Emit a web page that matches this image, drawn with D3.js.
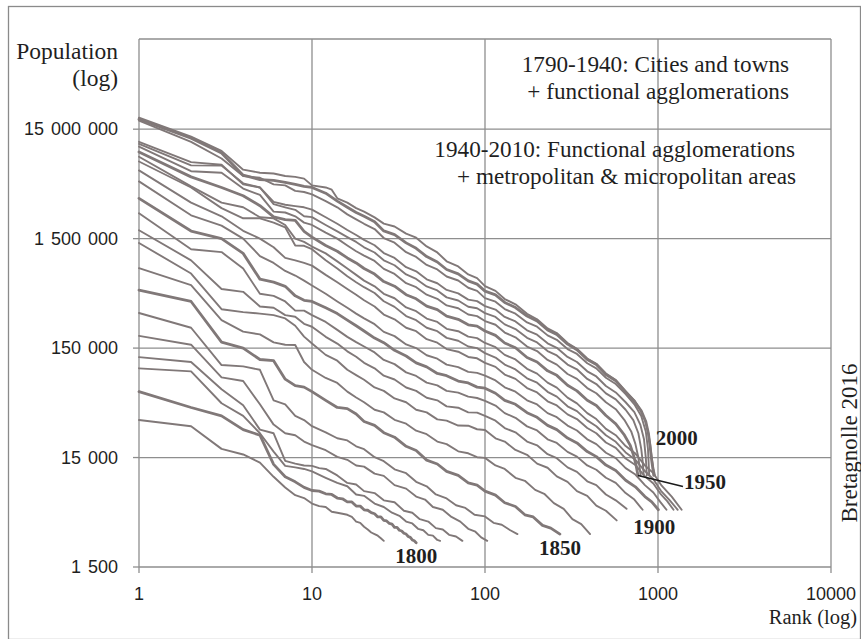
<!DOCTYPE html>
<html>
<head>
<meta charset="utf-8">
<style>
  body { margin: 0; background: #fff; }
  svg text { fill: #1f1f1f; }
  .tick-label { font-family: "Liberation Sans", Arial, sans-serif; font-size: 18px; }
  .serif { font-family: "Liberation Serif", "Times New Roman", serif; }
  .grid line { stroke: #8e8e8e; stroke-width: 1.3px; }
  .curve { fill: none; stroke: #807878; stroke-linejoin: round; stroke-linecap: round; }
  .year-label { font-family: "Liberation Serif", "Times New Roman", serif; font-weight: bold; font-size: 21px; }
</style>
<title>Rank-size curves, United States 1790-2010</title>
</head>
<body>
<svg width="861" height="639"></svg>
<script src="https://d3js.org/d3.v7.min.js"></script>
<script>
var years = [1790, 1800, 1810, 1820, 1830, 1840, 1850, 1860, 1870, 1880, 1890, 1900,
             1910, 1920, 1930, 1940, 1950, 1960, 1970, 1980, 1990, 2000, 2010];
var labelledYears = [1800, 1850, 1900, 1950, 2000];

var yTicks = [1500, 15000, 150000, 1500000, 15000000];
var yTickLabels = ["1 500", "15 000", "150 000", "1 500 000", "15 000 000"];
var xTicks = [1, 10, 100, 1000, 10000];
var xTickLabels = ["1", "10", "100", "1000", "10000"];

// [rank, population in thousands]
var c1790 = [[1,33],[2,29],[3,18],[4,16],[5,13.5],[6,10],[7,8],[8,6.8],[9,6.4],[10,5.7],[11,5.4],[12,5.3],[13,4.8],[14,4.7],[15,4.6],[16,4.5],[17,4.3],[18,3.9],[19,3.8],[20,3.5],[21,3.3],[22,3.1],[23,3.0],[24,2.9],[25,2.75],[26,2.6]];
var c1800 = [[1,60],[2,43],[3,36],[4,27],[5,24],[6,13],[7,10],[8,9],[9,8],[10,7.5],[11,7.4],[12,7.0],[13,6.9],[14,6.4],[15,6.3],[16,5.9],[17,5.9],[18,5.4],[19,5.4],[20,5.0],[21,4.95],[22,4.7],[23,4.6],[24,4.3],[25,4.3],[26,4.0],[27,3.95],[28,3.75],[29,3.7],[30,3.45],[31,3.45],[32,3.25],[33,3.2],[34,3.05],[35,3.0],[36,2.85],[37,2.8],[38,2.65],[39,2.6],[40,2.5]];
var c1810 = [[1,98],[2,92],[3,47],[4,36],[5,25],[6,17],[7,12.6],[8,12.2],[9,11.8],[10,11.2],[12,9.8],[14,8.8],[16,8.2],[18,6.9],[20,6.7],[23,5.7],[26,5.3],[29,4.7],[32,4.4],[35,3.9],[38,3.75],[41,3.35],[44,3.25],[47,2.95],[50,2.9],[53,2.65],[55,2.6]];
var c1820 = [[1,124],[2,112],[3,63],[4,45],[5,27],[6,25],[7,14],[8,13.2],[9,12.7],[10,12.6],[11,12.0],[12,11.8],[14,10.3],[16,8.8],[18,8.5],[20,7.4],[23,7.1],[26,6.1],[30,5.85],[34,4.9],[38,4.7],[42,4.1],[47,3.9],[52,3.4],[57,3.3],[62,2.95],[68,2.85],[74,2.6]];
var c1830 = [[1,194],[2,161],[3,81],[4,75],[5,46],[6,30],[7,25],[8,24],[9,21],[10,19.5],[12,17.5],[14,15.2],[16,14.3],[18,12.7],[20,12.4],[23,10.7],[26,10.2],[30,8.4],[35,7.8],[40,6.6],[45,6.2],[50,5.3],[57,5.0],[64,4.3],[72,3.9],[80,3.35],[88,3.15],[95,2.8],[103,2.6]];
var c1840 = [[1,314],[2,230],[3,105],[4,102],[5,95],[6,50],[7,46],[8,36],[9,33],[10,29],[12,25.5],[14,22.5],[16,21.5],[18,19],[20,17.9],[23,15.1],[26,13.9],[30,11.7],[35,10.8],[40,9.0],[46,8.2],[52,6.9],[60,6.35],[68,5.5],[77,5.2],[87,4.5],[100,4.35],[112,3.8],[125,3.65],[140,3.25],[154,3.0]];
var c1850 = [[1,508],[2,400],[3,170],[4,150],[5,118],[6,115],[7,78],[8,68],[9,66],[10,60],[12,50],[14,43],[16,42],[18,37.5],[20,32],[23,29.5],[26,25.3],[30,23],[35,19],[40,17.4],[46,14.2],[53,13.1],[60,11.2],[70,10.3],[80,8.8],[90,8.4],[100,7.4],[115,6.8],[130,5.8],[150,5.35],[170,4.5],[190,4.3],[215,3.6],[240,3.4],[271,3.0]];
var c1860 = [[1,806],[2,565],[3,270],[4,212],[5,200],[6,169],[7,161],[8,160],[9,112],[10,95],[12,80],[14,72],[16,60],[18,53],[20,48],[23,41],[26,38.8],[30,33.2],[35,30.6],[40,26.4],[46,24.5],[53,21],[60,19.9],[70,17.1],[80,16.4],[90,15.1],[100,14.9],[115,12.7],[130,11.8],[150,9.8],[170,9.2],[195,7.6],[220,7.0],[250,5.75],[285,5.1],[320,4.1],[360,3.7],[405,3.0]];
var c1870 = [[1,1370],[2,720],[3,340],[4,320],[5,310],[6,300],[7,280],[8,240],[9,191],[10,165],[12,130],[14,115],[16,95],[18,85],[20,77],[23,65.5],[26,61],[30,52],[35,48],[40,41],[46,38.8],[53,33.5],[60,32.6],[70,29.4],[80,29.3],[90,27.2],[100,26.8],[115,22.5],[130,21],[150,17.6],[175,15.9],[200,13.2],[230,12.1],[260,10.1],[300,9.0],[340,7.4],[390,6.7],[440,5.45],[500,4.9],[577,4.0]];
var c1880 = [[1,1790],[2,950],[3,520],[4,490],[5,360],[6,350],[7,300],[8,290],[9,250],[10,235],[12,190],[14,165],[16,140],[18,125],[20,110],[23,98],[26,84],[30,77.5],[35,65.5],[40,61],[46,52.8],[53,50],[60,44],[70,42.8],[80,38.8],[90,38.6],[100,36],[115,32.6],[130,27.9],[150,25.5],[175,21],[200,19.4],[230,16.1],[260,14.8],[300,12.2],[340,11.1],[390,9.1],[440,8.4],[500,6.9],[570,6.1],[658,5.1]];
var c1890 = [[1,2560],[2,1200],[3,1130],[4,800],[5,470],[6,450],[7,400],[8,330],[9,330],[10,300],[12,260],[14,220],[16,190],[18,170],[20,155],[23,137],[26,117],[30,107],[35,90],[40,83.5],[46,72.5],[53,68.5],[60,61],[70,58.8],[80,54],[90,52.5],[100,49.5],[115,44.8],[130,38.2],[150,34.6],[175,28.9],[200,26.5],[230,22],[260,20.4],[300,16.9],[340,15.3],[390,12.7],[440,11.6],[500,9.8],[570,8.8],[650,7.1],[730,6.2],[815,5.0]];
var c1900 = [[1,3500],[2,1760],[3,1500],[4,1100],[5,640],[6,600],[7,550],[8,450],[9,410],[10,400],[12,350],[14,310],[16,270],[18,240],[20,215],[23,185],[26,168],[30,143],[35,127],[40,110],[46,101],[53,88],[60,84],[70,75],[80,72],[90,66],[100,64.5],[115,58],[130,50],[150,46],[175,38.5],[200,35],[230,29.5],[260,27],[300,22.6],[340,20.4],[390,17],[440,15.3],[500,12.8],[570,11.4],[650,9.3],[740,8.1],[840,6.6],[920,5.9],[1005,5.0]];
var c1910 = [[1,5000],[2,2450],[3,1970],[4,1500],[5,1040],[6,900],[7,760],[8,690],[9,620],[10,560],[12,470],[14,400],[16,350],[18,310],[20,280],[23,248],[26,211],[30,193],[35,162],[40,150],[46,129],[53,120],[60,106],[70,100.5],[80,91],[90,89],[100,84],[115,76],[130,65.8],[150,60],[175,50],[200,45.8],[230,38.2],[260,35.1],[300,29.4],[340,26.5],[390,22],[440,19.9],[500,16.6],[570,14.8],[650,12],[740,10.5],[840,8.4],[940,7.2],[1030,5.9],[1120,5.0]];
var c1920 = [[1,6300],[2,3200],[3,2400],[4,1770],[5,1500],[6,1250],[7,1000],[8,950],[9,900],[10,850],[12,700],[14,600],[16,520],[18,460],[20,410],[23,360],[26,304],[30,275],[35,230],[40,214],[46,181],[53,168],[60,147],[70,139],[80,124.5],[90,121],[100,110],[115,101],[130,86],[150,78.5],[175,64.7],[200,59],[230,49],[260,44.9],[300,37.2],[340,33.7],[390,27.9],[440,25],[500,20.6],[570,18.4],[650,14.7],[740,12.8],[840,10.1],[940,8.7],[1040,6.9],[1130,6.0],[1230,5.0]];
var c1930 = [[1,7600],[2,4400],[3,2850],[4,2300],[5,2300],[6,2100],[7,1900],[8,1300],[9,1290],[10,1200],[12,950],[14,800],[16,680],[18,600],[20,540],[23,478],[26,402],[30,357],[35,294],[40,270],[46,230],[53,214],[60,186],[70,175],[80,155],[90,150],[100,135],[115,123],[130,106],[150,95.8],[175,79.4],[200,72.4],[230,59.8],[260,54],[300,44.1],[340,39.8],[390,32.8],[440,29],[500,24],[570,20.9],[650,16.7],[740,14.3],[840,11.3],[940,9.5],[1040,7.45],[1170,6.1],[1300,5.0]];
var c1940 = [[1,8400],[2,4500],[3,3200],[4,2900],[5,2350],[6,2300],[7,2000],[8,1500],[9,1400],[10,1270],[12,1100],[14,930],[16,800],[18,700],[20,620],[23,550],[26,470],[30,428],[35,353],[40,326],[46,279],[53,260],[60,225],[70,214],[80,191],[90,185],[100,167],[115,153],[130,130],[150,118],[175,97],[200,87.7],[230,72.5],[260,65.3],[300,52.9],[340,46.9],[390,38.2],[440,33.7],[500,27.4],[570,24],[650,19.1],[740,16.3],[840,12.7],[940,10.8],[1050,8.3],[1200,6.6],[1370,5.0]];
var c1950 = [[1,9300],[2,5500],[3,4400],[4,3700],[5,3000],[6,2370],[7,2240],[8,2200],[9,1750],[10,1550],[12,1300],[14,1150],[16,1000],[18,900],[20,800],[23,712],[26,608],[30,551],[35,461],[40,423],[46,363],[53,337],[60,294],[70,275],[80,245],[90,238],[100,215],[115,196],[130,167],[150,151],[175,123],[200,112],[230,93],[260,84.5],[300,68.6],[340,61],[390,50],[440,44.8],[500,36.3],[570,30.5],[640,24],[690,19.5],[720,16],[745,13],[766,10.3]];
var c1960 = [[1,10400],[2,6200],[3,6000],[4,4300],[5,3760],[6,2650],[7,2600],[8,2400],[9,2100],[10,2000],[12,1700],[14,1500],[16,1300],[18,1150],[20,1050],[23,938],[26,794],[30,714],[35,588],[40,540],[46,461],[53,423],[60,368],[70,347],[80,304],[90,294],[100,265],[115,245],[130,208],[150,188],[175,155],[200,141],[230,117],[260,106],[300,87],[340,78.5],[390,64.7],[440,58],[500,48],[570,41.5],[640,33],[700,26],[740,20],[770,15],[794,10.3]];
var c1970 = [[1,11000],[2,7000],[3,6970],[4,4800],[5,4400],[6,3100],[7,2900],[8,2750],[9,2400],[10,2360],[12,2000],[14,1750],[16,1550],[18,1400],[20,1250],[23,1120],[26,950],[30,857],[35,706],[40,643],[46,549],[53,505],[60,436],[70,408],[80,358],[90,347],[100,313],[115,289],[130,247],[150,224],[175,186],[200,169],[230,141],[260,128.5],[300,106],[340,96],[390,78.4],[440,70.4],[500,57.8],[570,51],[650,41],[720,33],[770,25],[800,18],[815,14],[827,10.3]];
var c1980 = [[1,11500],[2,7500],[3,7100],[4,4700],[5,4400],[6,3250],[7,3060],[8,2970],[9,2900],[10,2760],[12,2350],[14,2050],[16,1800],[18,1620],[20,1460],[23,1305],[26,1107],[30,1000],[35,823],[40,755],[46,637],[53,587],[60,510],[70,474],[80,416],[90,403],[100,363],[115,337],[130,289],[150,263],[175,218],[200,199],[230,166],[260,151],[300,124.5],[340,112],[390,92],[440,82.6],[500,67.6],[570,59],[650,48],[730,39],[790,30],[830,22],[850,15],[862,10.3]];
var c1990 = [[1,18000],[2,11500],[3,8100],[4,5600],[5,5400],[6,4700],[7,4600],[8,4100],[9,4000],[10,3800],[12,3300],[14,2900],[16,2500],[18,2250],[20,2050],[23,1836],[26,1519],[30,1377],[35,1127],[40,1020],[46,862],[53,785],[60,676],[70,622],[80,534],[90,500],[100,429],[115,398],[130,341],[150,309],[175,257],[200,235],[230,196],[260,178.5],[300,147],[340,132.6],[390,109],[440,98],[500,80.4],[570,70.4],[650,57],[730,46],[800,36],[850,26],[875,18],[890,10.3]];
var c2000 = [[1,18500],[2,12400],[3,9100],[4,5700],[5,5200],[6,5100],[7,4900],[8,4700],[9,4500],[10,4400],[12,3900],[14,3300],[16,2900],[18,2600],[20,2400],[23,2140],[26,1764],[30,1632],[35,1372],[40,1224],[46,1029],[53,918],[60,784],[70,714],[80,617],[90,576],[100,497],[115,459],[130,392],[150,352],[175,294],[200,265],[230,220],[260,200],[300,163],[340,145],[390,118],[440,106],[500,86],[570,75.5],[650,60],[730,49],[800,40],[850,32],[880,25],[900,19],[920,14],[945,10.3]];
var c2010 = [[1,19100],[2,12800],[3,9500],[4,6400],[5,6000],[6,5900],[7,5600],[8,5500],[9,5300],[10,4600],[12,4400],[13,4200],[14,3500],[16,3200],[18,2850],[20,2650],[23,2346],[26,2058],[30,1938],[35,1666],[40,1530],[46,1274],[53,1122],[60,931],[70,836],[80,706],[90,653],[100,553],[115,500],[130,421],[150,377],[175,309],[200,275],[230,227],[260,206],[300,167],[340,148],[390,120.5],[440,108],[500,88],[570,76.5],[650,60],[730,50],[790,41],[840,33],[875,26],[900,20],[920,15],[940,12],[960,10.3]];

var curves = [c1790, c1800, c1810, c1820, c1830, c1840, c1850, c1860, c1870, c1880, c1890, c1900,
              c1910, c1920, c1930, c1940, c1950, c1960, c1970, c1980, c1990, c2000, c2010];

var svg = d3.select("svg"),
    width = +svg.attr("width"),
    height = +svg.attr("height");

var margin = {left: 139, right: 30, top: 39, bottom: 72};

var x = d3.scaleLog().domain([1, 10000]).range([margin.left, width - margin.right]);
var y = d3.scaleLog().domain([1500, 1e8]).range([height - margin.bottom, margin.top]);

// outer frame
svg.append("rect")
    .attr("x", 8.5).attr("y", 6.5)
    .attr("width", width - 9).attr("height", height - 6)
    .attr("fill", "none").attr("stroke", "#8a8a8a").attr("stroke-width", 1.3);

// grid + plot border
var grid = svg.append("g").attr("class", "grid");
grid.selectAll(".hgrid")
  .data(yTicks.concat([1e8]))
  .enter().append("line")
    .attr("x1", x(1)).attr("x2", x(10000))
    .attr("y1", function(d) { return y(d); })
    .attr("y2", function(d) { return y(d); });
grid.selectAll(".vgrid")
  .data(xTicks)
  .enter().append("line")
    .attr("x1", function(d) { return x(d); })
    .attr("x2", function(d) { return x(d); })
    .attr("y1", y(1e8)).attr("y2", y(1500));

// tick marks
grid.selectAll(".ytick")
  .data(yTicks)
  .enter().append("line")
    .attr("x1", x(1) - 6).attr("x2", x(1))
    .attr("y1", function(d) { return y(d); })
    .attr("y2", function(d) { return y(d); });
grid.selectAll(".xtick")
  .data(xTicks)
  .enter().append("line")
    .attr("x1", function(d) { return x(d); })
    .attr("x2", function(d) { return x(d); })
    .attr("y1", y(1500)).attr("y2", y(1500) + 6);

// tick labels
svg.append("g").selectAll("text")
  .data(yTicks)
  .enter().append("text")
    .attr("class", "tick-label")
    .attr("x", x(1) - 21)
    .attr("y", function(d) { return y(d) + 6; })
    .attr("text-anchor", "end")
    .style("word-spacing", "2px")
    .text(function(d, i) { return yTickLabels[i]; });

svg.append("g").selectAll("text")
  .data(xTicks)
  .enter().append("text")
    .attr("class", "tick-label")
    .attr("x", function(d) { return x(d); })
    .attr("y", y(1500) + 33)
    .attr("text-anchor", "middle")
    .text(function(d, i) { return xTickLabels[i]; });

// curves
var line = d3.line()
    .x(function(d) { return x(d[0]); })
    .y(function(d) { return y(d[1] * 1000); });

svg.append("g").selectAll("path")
  .data(curves)
  .enter().append("path")
    .attr("class", "curve")
    .attr("stroke-width", function(d, i) { return labelledYears.indexOf(years[i]) >= 0 ? 2.8 : 1.9; })
    .attr("d", line);

// axis titles
var serif = svg.append("g").attr("class", "serif");
serif.append("text").attr("x", 118).attr("y", 59).attr("text-anchor", "end").style("font-size", "23.5px").text("Population");
serif.append("text").attr("x", 118).attr("y", 86).attr("text-anchor", "end").style("font-size", "23.5px").text("(log)");
serif.append("text").attr("x", 857).attr("y", 624).attr("text-anchor", "end").style("font-size", "20.5px").text("Rank (log)");
serif.append("text")
    .attr("transform", "translate(857,443) rotate(-90)")
    .attr("text-anchor", "middle")
    .style("font-size", "23px")
    .text("Bretagnolle 2016");

// definitions note
var note = svg.append("g").attr("class", "serif").style("font-size", "23.2px").attr("text-anchor", "end");
note.append("text").attr("x", 789).attr("y", 72).text("1790-1940: Cities and towns");
note.append("text").attr("x", 789).attr("y", 99).text("+ functional agglomerations");
note.append("text").attr("x", 795).attr("y", 157).text("1940-2010: Functional agglomerations");
note.append("text").attr("x", 796).attr("y", 184).text("+ metropolitan & micropolitan areas");

// year labels next to the curve ends
function lastPoint(year) {
  var c = curves[years.indexOf(year)];
  return c[c.length - 1];
}
function endX(year) { return x(lastPoint(year)[0]); }
function endY(year) { return y(lastPoint(year)[1] * 1000); }

var labels = svg.append("g").attr("class", "year-label");
labels.append("text").attr("x", endX(1800)).attr("y", endY(1800) + 20).attr("text-anchor", "middle").text("1800");
labels.append("text").attr("x", endX(1850)).attr("y", endY(1850) + 21).attr("text-anchor", "middle").text("1850");
labels.append("text").attr("x", endX(1900) - 4).attr("y", endY(1900) + 24).attr("text-anchor", "middle").text("1900");
labels.append("text").attr("x", endX(2000) + 2).attr("y", endY(2000) - 30).attr("text-anchor", "start").text("2000");
labels.append("text").attr("x", endX(1950) + 46).attr("y", endY(1950) + 14).attr("text-anchor", "start").text("1950");
svg.append("line")
    .attr("x1", endX(1950)).attr("y1", endY(1950))
    .attr("x2", endX(1950) + 45).attr("y2", endY(1950) + 11)
    .attr("stroke", "#1a1a1a").attr("stroke-width", 1.6);
</script>
</body>
</html>
